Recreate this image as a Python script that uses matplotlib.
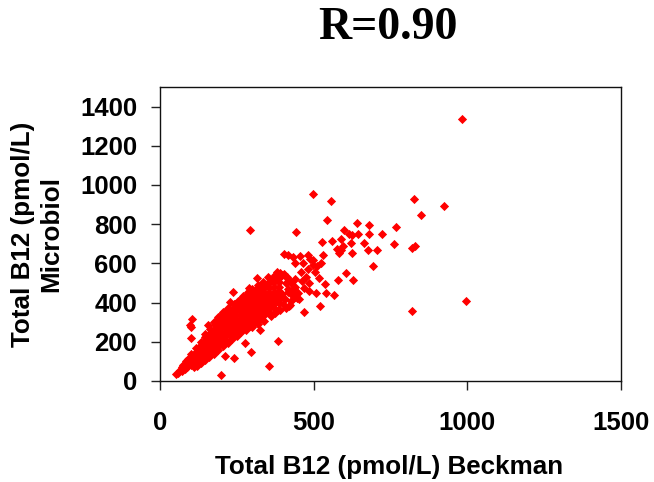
import matplotlib
matplotlib.use("Agg")
import matplotlib.pyplot as plt

plt.rcParams['font.family'] = ['Liberation Sans', 'DejaVu Sans']

title_text = "R=0.90"
x_label = "Total B12 (pmol/L) Beckman"
y_label = "Total B12 (pmol/L)\nMicrobiol"
x_ticks = [0, 500, 1000, 1500]
y_ticks = [0, 200, 400, 600, 800, 1000, 1200, 1400]

outlier_x = [982, 499, 555, 828, 925, 849, 545, 444, 642, 681, 768, 600, 615, 625, 643, 681, 723, 590, 559, 526,
             622, 664, 761, 829, 821, 594, 575, 588, 584, 626, 678, 705, 531, 405, 418, 434, 454, 482, 488, 498,
             440, 464, 524, 510, 497, 482, 458, 503, 694, 604, 475, 517, 439, 580, 629, 463, 486, 538, 469, 485,
             507, 541, 566, 450, 439, 452, 521, 421, 467, 821, 996, 293, 239, 103, 98, 100, 100, 314, 352, 290,
             384, 324, 275, 297, 213, 241, 356, 197, 52, 228, 385, 423, 390, 412]
outlier_y = [1335, 956, 918, 928, 891, 847, 819, 758, 807, 797, 787, 770, 748, 743, 748, 748, 748, 726, 716, 709,
             704, 704, 699, 688, 681, 687, 671, 670, 653, 654, 670, 670, 644, 649, 644, 632, 637, 644, 622, 615,
             600, 600, 600, 588, 593, 573, 555, 555, 588, 550, 533, 528, 521, 516, 516, 508, 499, 494, 472, 457,
             450, 450, 440, 451, 431, 418, 385, 385, 351, 356, 407, 768, 456, 315, 286, 274, 218, 528, 533, 473,
             203, 259, 193, 147, 126, 116, 77, 32, 36, 405, 363, 388, 550, 530]

cloud_x = [60, 64, 70, 72, 75, 80, 82, 85, 88, 90, 93, 96,
           100, 100, 100, 100,
           116, 116, 116, 116, 116,
           132, 132, 132, 132, 132, 132,
           148, 148, 148, 148, 148, 148, 148,
           164, 164, 164, 164, 164, 164, 164,
           180, 180, 180, 180, 180, 180, 180, 180,
           196, 196, 196, 196, 196, 196, 196, 196,
           212, 212, 212, 212, 212, 212, 212, 212,
           228, 228, 228, 228, 228, 228, 228, 228,
           244, 244, 244, 244, 244, 244, 244, 244, 244,
           260, 260, 260, 260, 260, 260, 260, 260, 260,
           276, 276, 276, 276, 276, 276, 276, 276, 276,
           292, 292, 292, 292, 292, 292, 292, 292, 292,
           308, 308, 308, 308, 308, 308, 308, 308, 308,
           324, 324, 324, 324, 324, 324, 324, 324, 324,
           340, 340, 340, 340, 340, 340, 340, 340,
           356, 356, 356, 356, 356, 356, 356, 356,
           372, 372, 372, 372, 372, 372, 372,
           388, 388, 388, 388, 388, 388,
           108, 124, 124, 140, 140, 156, 156, 172, 172, 188, 188, 204, 204, 220, 220, 236, 236, 252, 252,
           268, 268, 284, 284, 300, 300, 316, 316, 332, 332, 348, 348, 364, 364, 380, 380, 396, 396, 408, 415, 428]
cloud_y = [40, 55, 50, 70, 82, 60, 80, 100, 72, 112, 92, 118,
           80, 100, 120, 140,
           90, 110, 130, 150, 170,
           105, 125, 145, 165, 185, 200,
           125, 145, 165, 185, 205, 225, 240,
           145, 165, 185, 205, 225, 245, 265,
           165, 185, 205, 225, 245, 265, 285, 300,
           190, 210, 230, 250, 270, 290, 310, 330,
           210, 230, 250, 270, 290, 310, 330, 350,
           228, 248, 268, 288, 308, 328, 348, 368,
           238, 258, 278, 298, 318, 338, 358, 378, 392,
           258, 278, 298, 318, 338, 358, 378, 398, 412,
           268, 288, 308, 328, 348, 368, 388, 408, 430,
           282, 302, 322, 342, 362, 382, 402, 422, 442,
           300, 320, 340, 360, 380, 400, 420, 440, 462,
           315, 335, 355, 375, 395, 415, 435, 455, 480,
           335, 355, 375, 395, 415, 435, 455, 480,
           350, 370, 390, 410, 430, 450, 475, 500,
           375, 395, 415, 435, 455, 480, 505,
           400, 420, 440, 460, 480, 505,
           125, 120, 155, 140, 185, 160, 210, 180, 240, 205, 280, 225, 320, 245, 335, 265, 350, 285, 370,
           305, 395, 320, 410, 335, 440, 355, 455, 370, 470, 385, 495, 405, 515, 425, 530, 445, 540, 420, 470, 450]

edge_x = [157, 175, 190, 205, 220, 240, 255, 270, 285, 300, 318, 335, 345, 360, 375, 395, 405, 380, 415, 425, 435,
          110, 122, 135, 148, 160, 175, 190, 205, 220, 235, 250, 265, 280, 300, 320, 340, 360, 375, 392, 410, 400,
          425, 445, 430, 415, 440, 410]
edge_y = [285, 300, 325, 350, 372, 395, 410, 432, 455, 470, 490, 505, 490, 515, 540, 535, 545, 555, 520, 500, 470,
          70, 78, 90, 105, 122, 140, 160, 178, 195, 212, 230, 250, 262, 275, 290, 305, 330, 345, 362, 375, 395,
          410, 425, 440, 455, 480, 500]

fig = plt.figure(figsize=(6.54, 4.82), dpi=100, facecolor="white")
ax = fig.add_axes([160 / 654, 1 - 381 / 482, 461 / 654, 294 / 482])

ax.scatter(cloud_x, cloud_y, marker="D", s=22, color="#ff0000", linewidths=0, clip_on=False, zorder=3)
ax.scatter(edge_x, edge_y, marker="D", s=22, color="#ff0000", linewidths=0, clip_on=False, zorder=3)
ax.scatter(outlier_x, outlier_y, marker="D", s=22, color="#ff0000", linewidths=0, clip_on=False, zorder=3)

ax.set_xlim(0, 1500)
ax.set_ylim(0, 1500)
ax.set_xticks(x_ticks)
ax.set_yticks(y_ticks)
ax.tick_params(axis="both", length=6.5, width=1.0, labelsize=18.5, color="#222222")
ax.tick_params(axis="x", pad=15)
ax.tick_params(axis="y", pad=10)
for lab in ax.get_xticklabels() + ax.get_yticklabels():
    lab.set_fontweight("bold")
for sp in ax.spines.values():
    sp.set_linewidth(1.0)
    sp.set_color("#111111")

fig.text(389.5 / 654, 1 - 467 / 482, x_label, ha="center", va="center",
         fontsize=18.7, fontweight="bold")
fig.text(37 / 654, 1 - 234 / 482, y_label, ha="center", va="center", rotation=90,
         fontsize=18.7, fontweight="bold", linespacing=1.25, multialignment="center")
fig.text(388 / 654, 1 - 28 / 482, title_text, ha="center", va="center",
         fontsize=33, fontweight="bold", family=["Liberation Serif", "DejaVu Serif"])

fig.savefig("out.png", dpi=100)
